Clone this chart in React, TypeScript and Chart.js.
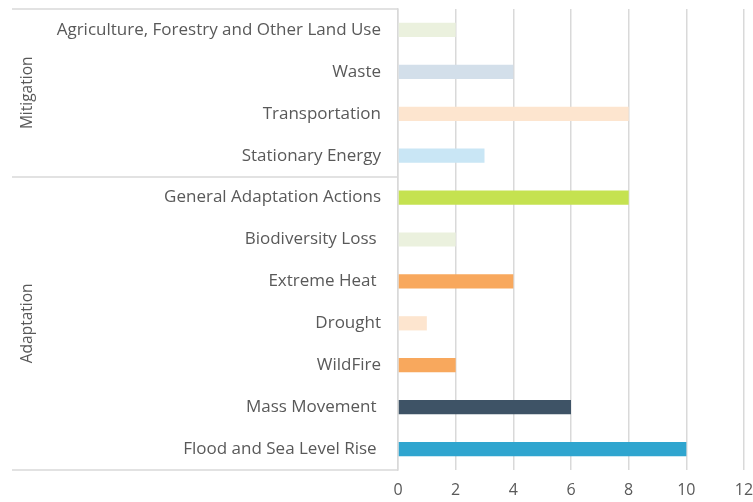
import React, { useEffect, useRef } from "react";
import { Chart, registerables } from "chart.js";

Chart.register(...registerables);

const categories = [
  "Agriculture, Forestry and Other Land Use",
  "Waste",
  "Transportation",
  "Stationary Energy",
  "General Adaptation Actions",
  "Biodiversity Loss ",
  "Extreme Heat ",
  "Drought",
  "WildFire",
  "Mass Movement ",
  "Flood and Sea Level Rise ",
];
const values = [2, 4, 8, 3, 8, 2, 4, 1, 2, 6, 10];
const barColors = [
  "#EBF1DE",
  "#D3DFEA",
  "#FDE5CF",
  "#C9E6F5",
  "#C5E250",
  "#EBF1DE",
  "#F8A85D",
  "#FDE5CF",
  "#F8A85D",
  "#3E5366",
  "#2FA5CF",
];
const groups = [
  { name: "Mitigation", from: 0, to: 3 },
  { name: "Adaptation", from: 4, to: 10 },
];
const xMax = 12;
const xStep = 2;

const FONT = "'Open Sans', sans-serif";
const TEXT = "#595959";
const LINE = "#D9D9D9";

const groupPlugin = {
  id: "groupLabels",
  afterDraw(chart: any) {
    const { ctx, chartArea } = chart;
    const y = chart.scales.y;
    const left = 12;
    const right = chartArea.left;
    const bounds: number[] = [];
    groups.forEach((g, i) => {
      const top = i === 0 ? chartArea.top : (y.getPixelForValue(g.from - 1) + y.getPixelForValue(g.from)) / 2;
      const bottom = i === groups.length - 1 ? chartArea.bottom : (y.getPixelForValue(g.to) + y.getPixelForValue(g.to + 1)) / 2;
      bounds.push(top, bottom);
      ctx.save();
      ctx.translate(28, (top + bottom) / 2);
      ctx.rotate(-Math.PI / 2);
      ctx.fillStyle = TEXT;
      ctx.font = `15.5px ${FONT}`;
      ctx.textAlign = "center";
      ctx.textBaseline = "middle";
      ctx.fillText(g.name, 0, 0);
      ctx.restore();
    });
    const uniq = Array.from(new Set(bounds.map((b) => Math.round(b))));
    ctx.save();
    ctx.strokeStyle = LINE;
    ctx.lineWidth = 1.5;
    uniq.forEach((b) => {
      ctx.beginPath();
      ctx.moveTo(left, b);
      ctx.lineTo(right, b);
      ctx.stroke();
    });
    ctx.restore();
  },
};

export default function App() {
  const ref = useRef<HTMLCanvasElement>(null);
  useEffect(() => {
    if (!ref.current) return;
    const chart = new Chart(ref.current, {
      type: "bar",
      data: {
        labels: categories,
        datasets: [
          {
            data: values,
            backgroundColor: barColors,
            borderWidth: 0,
            categoryPercentage: 1,
            barPercentage: 0.34,
          },
        ],
      },
      options: {
        indexAxis: "y",
        animation: false,
        responsive: false,
        layout: { padding: { top: 9, right: 9, left: 0, bottom: 0 } },
        plugins: { legend: { display: false }, tooltip: { enabled: false } },
        scales: {
          x: {
            min: 0,
            max: xMax,
            ticks: { stepSize: xStep, color: TEXT, font: { family: FONT, size: 16 }, padding: 11 },
            grid: { color: LINE, lineWidth: 1.5, drawTicks: false },
            border: { display: false },
            afterFit: (s: any) => {
              s.height = 32;
              s.paddingLeft = 0;
              s.paddingRight = 0;
            },
          },
          y: {
            ticks: { color: TEXT, font: { family: FONT, size: 17 }, padding: 17, autoSkip: false },
            grid: { display: false, drawTicks: false },
            border: { display: true, color: LINE, width: 1.5 },
            afterFit: (s: any) => {
              s.width = 398;
              s.paddingTop = 0;
              s.paddingBottom = 0;
            },
          },
        },
      },
      plugins: [groupPlugin],
    });
    return () => chart.destroy();
  }, []);
  return (
    <div style={{ position: "fixed", left: 0, top: 0, width: 753, height: 502, background: "#fff" }}>
      <canvas ref={ref} width={753} height={502} />
    </div>
  );
}
